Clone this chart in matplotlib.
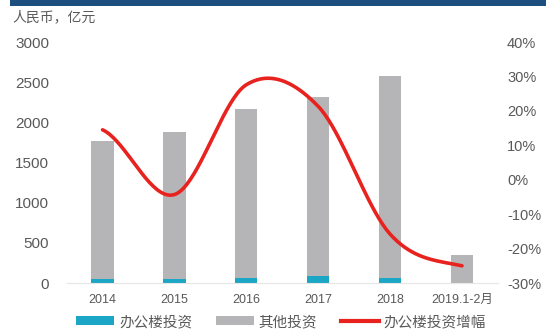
import numpy as np
import matplotlib.pyplot as plt
import matplotlib.patches as patches
from matplotlib.lines import Line2D
from matplotlib.ticker import FuncFormatter

plt.rcParams["font.family"] = ["Liberation Sans", "Noto Sans CJK SC", "DejaVu Sans"]

years = ["2014", "2015", "2016", "2017", "2018", "2019.1-2月"]
office = [55, 50, 65, 85, 66, 6]
total = [1772, 1875, 2168, 2314, 2572, 347]
growth = [0.145, -0.043, 0.276, 0.213, -0.158, -0.25]

other = [t - o for t, o in zip(total, office)]

teal = "#1ba6c6"
gray = "#b5b5b7"
red = "#e8231f"
txt = "#595959"


def catmull_rom(y, n=40):
    # smoothed line like the spreadsheet one, through every point
    y = np.asarray(y, dtype=float)
    pts = np.concatenate([[y[0]], y, [y[-1]]])
    xs, ys = [], []
    for i in range(len(y) - 1):
        p0, p1, p2, p3 = pts[i], pts[i + 1], pts[i + 2], pts[i + 3]
        m1 = (p2 - p0) / 2
        m2 = (p3 - p1) / 2
        t = np.linspace(0, 1, n, endpoint=False)
        h00 = 2 * t**3 - 3 * t**2 + 1
        h10 = t**3 - 2 * t**2 + t
        h01 = -2 * t**3 + 3 * t**2
        h11 = t**3 - t**2
        xs.append(i + t)
        ys.append(h00 * p1 + h10 * m1 + h01 * p2 + h11 * m2)
    xs.append([len(y) - 1])
    ys.append([y[-1]])
    return np.concatenate(xs), np.concatenate(ys)


fig = plt.figure(figsize=(5.46, 3.31), dpi=100)
ax = fig.add_axes([0.122, 0.145, 0.79, 0.728])
ax2 = ax.twinx()

x = np.arange(len(years))
w = 0.31
ax.bar(x, office, w, color=teal, zorder=2)
ax.bar(x, other, w, bottom=office, color=gray, zorder=2)

sx, sy = catmull_rom(growth)
ax2.plot(sx, sy, color=red, linewidth=2.6, solid_capstyle="round", zorder=3)

ax.set_xlim(-0.5, len(years) - 0.5)
ax.set_ylim(0, 3000)
ax.set_yticks(range(0, 3001, 500))
ax2.set_ylim(-0.3, 0.4)
ax2.set_yticks(np.arange(-0.3, 0.41, 0.1))
ax2.yaxis.set_major_formatter(FuncFormatter(lambda v, p: f"{v * 100:.0f}%"))

ax.set_xticks(x)
ax.set_xticklabels(years)

for a in (ax, ax2):
    for s in a.spines.values():
        s.set_visible(False)
ax.spines["bottom"].set_visible(True)
ax.spines["bottom"].set_color("#e6e6e6")

ax.tick_params(axis="y", length=0, pad=12.5, labelsize=11, labelcolor=txt)
ax.tick_params(axis="x", length=0, pad=8, labelsize=9, labelcolor=txt)
ax2.tick_params(axis="y", length=0, pad=6.5, labelsize=10.5, labelcolor=txt)

# top banner and unit label
fig.patches.append(patches.Rectangle((10 / 546, 1 - 6 / 331), 1, 6 / 331,
                                     transform=fig.transFigure,
                                     facecolor="#1d4f7e", edgecolor="none"))
fig.text(12 / 546, 1 - 17 / 331, "人民币，亿元", fontsize=10, color=txt,
         ha="left", va="center")

handles = [
    patches.Patch(facecolor=teal, edgecolor="none"),
    patches.Patch(facecolor=gray, edgecolor="none"),
    Line2D([0], [0], color=red, linewidth=3),
]
labels = ["办公楼投资", "其他投资", "办公楼投资增幅"]
leg = fig.legend(handles, labels, loc="center", ncol=3,
                 bbox_to_anchor=(0.515, 1 - 322 / 331), frameon=False,
                 fontsize=10.5, handlelength=2.6, handleheight=0.55,
                 columnspacing=1.6, handletextpad=0.35, labelcolor=txt,
                 borderpad=0.2)

fig.savefig("out.png", dpi=100)
